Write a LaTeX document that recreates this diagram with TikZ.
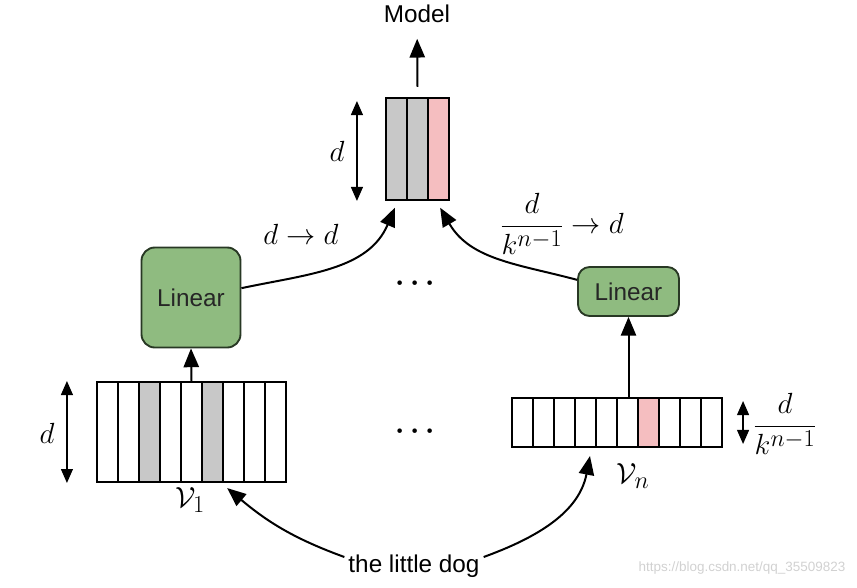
\documentclass[tikz,border=0pt]{standalone}
\usepackage{amsmath}
\usepackage{fontspec}
\setmainfont{Liberation Sans}
\usetikzlibrary{arrows.meta,positioning}
\definecolor{lingreen}{RGB}{143,187,128}
\definecolor{linedge}{RGB}{40,56,36}
\definecolor{cellgray}{RGB}{200,200,200}
\definecolor{cellpink}{RGB}{245,190,192}

\begin{document}
\begin{tikzpicture}[x=0.03cm, y=-0.03cm, font=\fontsize{20.74}{24}\selectfont,
		arr/.style={-{Triangle[length=16pt,width=13pt]}, line width=1.7pt},
		dim/.style={{Triangle[length=12pt,width=10pt]}-{Triangle[length=12pt,width=10pt]}, line width=1.7pt},
		vec/.style={draw, line width=1.8pt, inner sep=0pt},
		cell/.style={draw, line width=1.8pt},
		mlab/.style={font=\fontsize{24.88}{28}\selectfont},
		linear/.style={draw=linedge, fill=lingreen, text=black!85, line width=1.6pt, rounded corners=0.4cm, inner sep=0pt}]
	\useasboundingbox (0,0) rectangle (857,588);

	% output vector
	\foreach \i/\col in {0/cellgray,1/cellgray,2/cellpink}
		\draw[cell, fill=\col] (386+21*\i,98) rectangle ++(21,102);
	\node[vec, minimum width=1.89cm, minimum height=3.06cm] (top) at (417.5,149) {};
	\node (model) at (417,14) {Model};
	\draw[arr, shorten >=10pt] ([yshift=0.3cm]top.north) -- (model);
	\node[mlab] (dtop) at (337,151) {$d$};
	\draw[dim] ([xshift=-0.84cm,yshift=-0.12cm]top.north west) -- ([xshift=-0.84cm]top.south west);

	% V_1
	\foreach \i in {0,...,8}
		\draw[cell] (97+21*\i,382) rectangle ++(21,100);
	\foreach \i in {2,5}
		\draw[cell, fill=cellgray] (97+21*\i,382) rectangle ++(21,100);
	\node[vec, minimum width=5.67cm, minimum height=3cm] (v1) at (191.5,432) {};
	\node[mlab] (v1lab) at (190,500) {$\mathcal{V}_1$};
	\node[mlab] (dleft) at (47,433) {$d$};
	\draw[dim] ([xshift=-0.87cm]v1.north west) -- ([xshift=-0.87cm]v1.south west);

	% V_n
	\foreach \i in {0,...,9}
		\draw[cell] (512+21*\i,398) rectangle ++(21,49);
	\draw[cell, fill=cellpink] (512+21*6,398) rectangle ++(21,49);
	\node[vec, minimum width=6.3cm, minimum height=1.47cm] (vn) at (617,422.5) {};
	\node[mlab] (vnlab) at (633,476) {$\mathcal{V}_n$};
	\node[mlab] (fracn) at (785,424) {$\dfrac{d}{k^{n-1}}$};
	\draw[dim] ([xshift=0.6cm,yshift=-0.12cm]vn.north east) -- ([xshift=0.6cm,yshift=0.12cm]vn.south east);

	% linear layers
	\node[linear, minimum width=2.97cm, minimum height=3cm] (lin1) at (191,297.5) {Linear};
	\node[linear, minimum width=3.03cm, minimum height=1.47cm, rounded corners=0.35cm] (linn) at (628.5,291.5) {Linear};
	\draw[arr] (v1.north) -- (lin1.south);
	\draw[arr] (vn.north -| linn.south) -- (linn.south);

	\draw[arr] ([yshift=0.28cm]lin1.east) to[out=12,in=-113] ([xshift=-0.68cm,yshift=-0.2cm]top.south);
	\draw[arr] ([yshift=0.35cm]linn.west) to[out=165,in=-60] ([xshift=0.68cm,yshift=-0.2cm]top.south);
	\node[mlab] (samelab) at (301,234) {$d\to d$};
	\node[mlab] (fraclab) at (562,224) {$\dfrac{d}{k^{n-1}}\to d$};

	\node[mlab] (dots1) at (418,284) {$\boldsymbol{\cdots}$};
	\node[mlab] (dots2) at (418,432) {$\boldsymbol{\cdots}$};

	% input
	\node (dog) at (414,566) {the little dog};
	\draw[arr] ([yshift=0.27cm]dog.west) to[out=160,in=-40] ([xshift=1.07cm,yshift=-0.15cm]v1.south);
	\draw[arr] ([yshift=0.27cm]dog.east) to[out=20,in=-101] ([xshift=-0.81cm,yshift=-0.24cm]vn.south);

	\node[text=black!18, font=\fontsize{11.5}{14}\selectfont] (wm) at (742,568) {https://blog.csdn.net/qq\_35509823};
\end{tikzpicture}
\end{document}
